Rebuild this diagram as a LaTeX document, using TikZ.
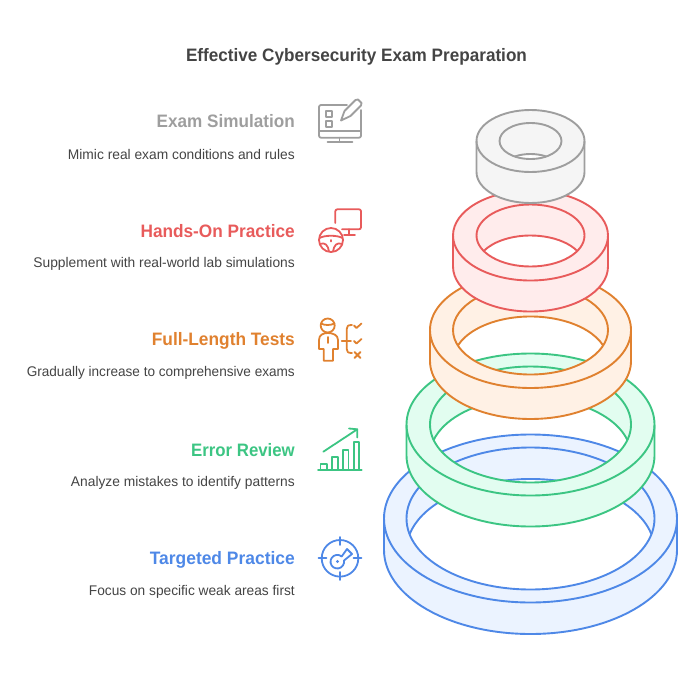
\documentclass[tikz,border=0pt]{standalone}
\usepackage{fontspec}
\setmainfont{Liberation Sans}
\newfontfamily\headfont[FakeStretch=0.952,BoldFont={Liberation Sans Bold}]{Liberation Sans}
\newfontfamily\descfont[FakeStretch=0.985]{Liberation Sans}
\definecolor{cgray}{HTML}{9E9E9E}\definecolor{fgray}{HTML}{F5F5F5}
\definecolor{cred}{HTML}{E85B5B}\definecolor{fred}{HTML}{FFECEC}
\definecolor{corange}{HTML}{E0812F}\definecolor{forange}{HTML}{FFF1E5}
\definecolor{cgreen}{HTML}{3CC583}\definecolor{fgreen}{HTML}{E2FDF0}
\definecolor{cblue}{HTML}{4E88E7}\definecolor{fblue}{HTML}{EBF3FF}
\definecolor{ctext}{HTML}{444444}
% \ringshape{cx}{cy}{rx}{ry}{irx}{iry}{depth}{stroke}{fill}
\newcommand{\ringshape}[9]{%
  \pgfmathsetmacro{\rcy}{-(#2)}
  \pgfmathsetmacro{\ang}{asin((#7)/2/(#6))}
  \pgfmathsetmacro{\ix}{(#5)*cos(\ang)}
  \pgfmathsetmacro{\mid}{\rcy-(#7)/2}
  \pgfmathsetmacro{\sA}{180+\ang}\pgfmathsetmacro{\eA}{360-\ang}
  \pgfmathsetmacro{\eB}{180-\ang}
  \fill[#9,even odd rule]
    ({#1-#3},\rcy) arc[start angle=180,end angle=0,x radius=#3,y radius=#4]
    -- ++(0,-#7) arc[start angle=0,end angle=-180,x radius=#3,y radius=#4] -- cycle
    ({#1-\ix},\mid) arc[start angle=\sA,end angle=\eA,x radius=#5,y radius=#6]
    arc[start angle=\ang,end angle=\eB,x radius=#5,y radius=#6] -- cycle;
  \draw[ringline,#8]
    ({#1-#3},\rcy) -- ++(0,-#7) arc[start angle=-180,end angle=0,x radius=#3,y radius=#4] -- ++(0,#7);
  \draw[ringline,#8] (#1,\rcy) ellipse[x radius=#3,y radius=#4];
  \draw[ringline,#8] (#1,\rcy) ellipse[x radius=#5,y radius=#6];
  \draw[ringline,#8] ({#1+\ix},\mid) arc[start angle=\ang,end angle=\eB,x radius=#5,y radius=#6];
}
\tikzset{
  ringline/.style={line width=1.9pt,line join=round},
  iconline/.style={line width=1.8pt,line cap=round,line join=round},
  headtext/.style={anchor=east,font=\headfont\fontsize{18}{20}\selectfont\bfseries,inner sep=0pt},
  desctext/.style={anchor=east,font=\descfont\fontsize{14}{16}\selectfont,text=ctext,inner sep=0pt},
}
\begin{document}
\begin{tikzpicture}[x=1pt,y=1pt]
\useasboundingbox (0,0) rectangle (700,-680);
\node[anchor=center,inner sep=0pt,font=\headfont\fontsize{18}{20}\selectfont\bfseries,text=ctext] (title) at (356.5,-56.5) {Effective Cybersecurity Exam Preparation};
% rings
\ringshape{530.5}{518.5}{146.5}{84}{124}{71}{31.5}{cblue}{fblue}
\ringshape{530.5}{424.5}{124}{71}{100.5}{58}{31}{cgreen}{fgreen}
\ringshape{530.5}{330}{100.5}{58}{77.5}{44.5}{31}{corange}{forange}
\ringshape{530.5}{235.5}{77.5}{45}{54}{31}{31}{cred}{fred}
\ringshape{530.5}{141}{54}{31}{31}{18}{31}{cgray}{fgray}
% texts
\node[headtext,text=cgray] (h1) at (295,-121.5) {Exam Simulation};
\node[desctext] (d1) at (295,-154.5) {Mimic real exam conditions and rules};
\node[headtext,text=cred] (h2) at (295,-231) {\scalebox{1.006}[1]{Hands-On Practice}};
\node[desctext] (d2) at (295,-264) {Supplement with real-world lab simulations};
\node[headtext,text=corange] (h3) at (295,-340.5) {\scalebox{1.01}[1]{Full-Length Tests}};
\node[desctext] (d3) at (295,-373) {\scalebox{0.985}[1]{Gradually increase to comprehensive exams}};
\node[headtext,text=cgreen] (h4) at (295,-450) {\scalebox{0.98}[1]{Error Review}};
\node[desctext] (d4) at (295,-482.5) {Analyze mistakes to identify patterns};
\node[headtext,text=cblue] (h5) at (295,-559.5) {\scalebox{1.017}[1]{Targeted Practice}};
\node[desctext] (d5) at (295,-592) {\scalebox{0.995}[1]{Focus on specific weak areas first}};
% icon: exam
\begin{scope}[iconline,cgray,yscale=-1]
 \draw[rounded corners=2pt] (347,105) -- (319,105) -- (319,137.7) -- (361,137.7) -- (361,110);
 \draw (319,130.7) -- (361,130.7);
 \draw (339.5,137.7) -- (339.5,142) (327.5,142) -- (352.5,142);
 \draw (326,110.7) rectangle (332,116.7);
 \draw (326,121) rectangle (332,127);
 \draw (341,120.5) -- (344.5,111) -- (355.5,100) -- (358,99.5) -- (361.5,103) -- (361,105.5) -- (350.5,116) -- cycle;
\end{scope}
% icon: hands-on
\begin{scope}[iconline,cred,yscale=-1]
 \draw[rounded corners=2pt] (335.3,223) -- (335.3,209.3) -- (361,209.3) -- (361,229.3) -- (342,229.3);
 \draw (349.3,229.3) -- (349.3,235) (344,235) -- (355,235);
 \draw (331,240) circle[radius=12];
 \draw (319.5,238) .. controls (325,235) and (337,235) .. (342.5,238);
 \draw (320,244) .. controls (325,242) and (328,245) .. (329,251.5);
 \draw (342,244) .. controls (337,242) and (334,245) .. (333,251.5);
 \draw (331,240) -- (331,241.5);
\end{scope}
% icon: full-length
\begin{scope}[iconline,corange,yscale=-1]
 \draw (327.7,325.5) circle[radius=7];
 \draw (321,323.5) .. controls (325,325.5) and (330,325.5) .. (334.5,323.5);
 \draw (323.7,360.7) -- (323.7,349) -- (319,349) -- (319,340) .. controls (319,335) and (323,333) .. (327.7,333) .. controls (333,333) and (338,335) .. (338,340) -- (338,349) -- (333,349) -- (333,360.7) -- cycle;
 \draw (327.7,337) -- (327.7,343);
 \draw (352,325) .. controls (348,325) and (346.7,326) .. (346.7,329) -- (346.7,349) .. controls (346.7,352) and (348,353) .. (352,353);
 \draw (341.7,340.7) -- (351,340.7);
 \draw (354,325.5) -- (356.5,328) -- (361.5,323.5);
 \draw (354,341) -- (356.5,343.5) -- (361.5,339);
 \draw (354.5,352) -- (360.5,358) (360.5,352) -- (354.5,358);
\end{scope}
% icon: error review
\begin{scope}[iconline,cgreen,yscale=-1]
 \draw (318,470) -- (361.7,470);
 \draw (320.5,470) -- (320.5,464) -- (326.7,464) -- (326.7,470);
 \draw (331.7,470) -- (331.7,456.7) -- (337.7,456.7) -- (337.7,470);
 \draw (342.7,470) -- (342.7,450) -- (348.5,450) -- (348.5,470);
 \draw (353.7,470) -- (353.7,442.3) -- (359.3,442.3) -- (359.3,470);
 \draw (323.3,451.7) -- (357.3,429.3);
 \draw (349,428.5) -- (357.3,429.3) -- (357.3,437.5);
\end{scope}
% icon: targeted
\begin{scope}[iconline,cblue,yscale=-1]
 \draw (340,558.3) circle[radius=18.3];
 \draw (318.5,558.3) -- (326.5,558.3) (353.5,558.3) -- (361.5,558.3);
 \draw (340,537) -- (340,545) (340,572) -- (340,580);
 \draw (344,560.5) arc[start angle=-10,end angle=310,radius=6.8] -- (347,549) -- (352,554) -- cycle;
 \fill (337.5,561.5) circle[radius=1.7];
\end{scope}
\end{tikzpicture}
\end{document}
